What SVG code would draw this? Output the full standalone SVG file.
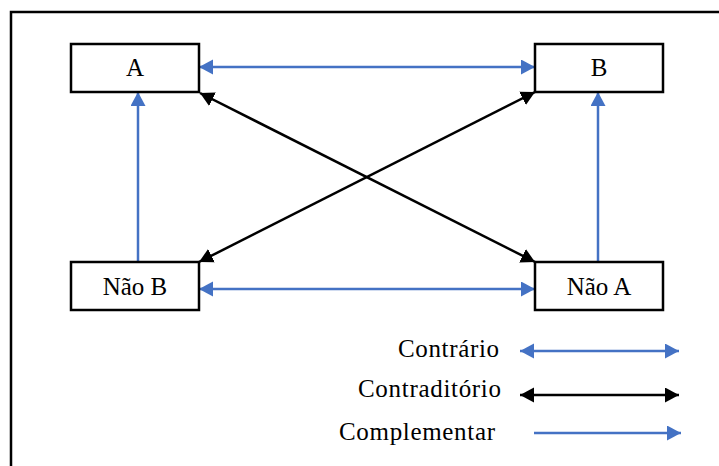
<svg xmlns="http://www.w3.org/2000/svg" width="719" height="466" viewBox="0 0 719 466">
<style>
.box{fill:#fff;stroke:#000;stroke-width:2.5}
.lbl{font-family:"Liberation Serif","Times New Roman",serif;font-size:25px;fill:#000}
.blue{stroke:#4472C4;stroke-width:2.5;fill:none}
.black{stroke:#000;stroke-width:2.5;fill:none}
</style>
<defs>
<marker id="hb" markerUnits="userSpaceOnUse" markerWidth="15" markerHeight="16" refX="14" refY="7.5" orient="auto-start-reverse"><path d="M0,0 L14,7.5 L0,15 z" fill="#4472C4"/></marker>
<marker id="hk" markerUnits="userSpaceOnUse" markerWidth="15" markerHeight="16" refX="14" refY="7.5" orient="auto-start-reverse"><path d="M0,0 L14,7.5 L0,15 z" fill="#000"/></marker>
</defs>
<rect x="0" y="0" width="719" height="466" fill="#fff"/>
<rect x="11" y="12" width="740" height="480" fill="none" stroke="#000" stroke-width="2.5"/>
<g id="connectors">
<line class="blue" x1="199" y1="67" x2="535" y2="67" marker-start="url(#hb)" marker-end="url(#hb)"/>
<line class="blue" x1="199" y1="289" x2="535" y2="289" marker-start="url(#hb)" marker-end="url(#hb)"/>
<line class="blue" x1="138" y1="262" x2="138" y2="92" marker-end="url(#hb)"/>
<line class="blue" x1="598" y1="262" x2="598" y2="92" marker-end="url(#hb)"/>
<line class="black" x1="200" y1="93" x2="535" y2="262" marker-start="url(#hk)" marker-end="url(#hk)"/>
<line class="black" x1="535" y1="92" x2="199" y2="262" marker-start="url(#hk)" marker-end="url(#hk)"/>
</g>
<g id="nodeA"><rect class="box" x="71" y="44" width="128" height="48"/><text class="lbl" x="135" y="76" text-anchor="middle">A</text></g>
<g id="nodeB"><rect class="box" x="535" y="44" width="128" height="48"/><text class="lbl" x="599" y="76" text-anchor="middle">B</text></g>
<g id="nodeNaoB"><rect class="box" x="71" y="262" width="128" height="48"/><text class="lbl" x="135" y="295" text-anchor="middle">Não B</text></g>
<g id="nodeNaoA"><rect class="box" x="535" y="262" width="128" height="48"/><text class="lbl" x="599" y="295" text-anchor="middle">Não A</text></g>
<g id="legend">
<text class="lbl" x="398" y="357" textLength="101">Contrário</text>
<line class="blue" x1="520" y1="351" x2="679" y2="351" marker-start="url(#hb)" marker-end="url(#hb)"/>
<text class="lbl" x="358" y="397" textLength="143">Contraditório</text>
<line class="black" x1="520" y1="395" x2="679" y2="395" marker-start="url(#hk)" marker-end="url(#hk)"/>
<text class="lbl" x="339" y="440" textLength="156">Complementar</text>
<line class="blue" x1="534" y1="433" x2="681" y2="433" marker-end="url(#hb)"/>
</g>
</svg>
